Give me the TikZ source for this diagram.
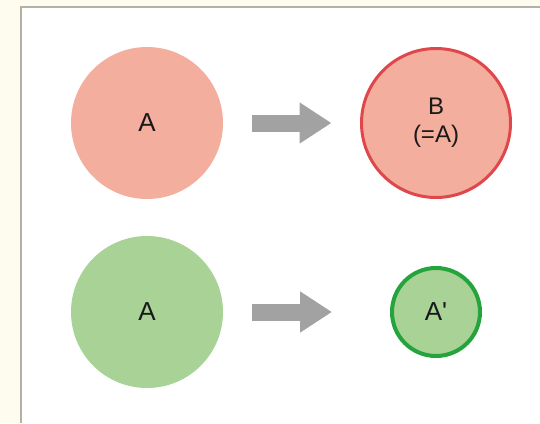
\documentclass[tikz,border=0pt]{standalone}
\usepackage{fontspec}
\newfontfamily\labelfont{Liberation Sans}
\usetikzlibrary{arrows.meta,positioning}

\definecolor{cream}{HTML}{FEFCEE}
\definecolor{panelline}{HTML}{B4B0A4}
\definecolor{redfill}{HTML}{F3AE9E}
\definecolor{redline}{HTML}{E0474C}
\definecolor{greenfill}{HTML}{A9D396}
\definecolor{greenline}{HTML}{25A33C}
\definecolor{arrowgray}{HTML}{A2A2A2}

\begin{document}
\begin{tikzpicture}[x=1pt,y=-1pt,node distance=289pt,
  main node/.style={circle,inner sep=0pt,outer sep=0pt,minimum size=152pt,
    text=black!90,font=\labelfont\fontsize{26}{30}\selectfont},
  red node/.style={main node,fill=redfill},
  green node/.style={main node,fill=greenfill},
  big arrow/.style={-{Triangle[length=32pt,width=39pt]},line width=17pt,arrowgray}]

  \useasboundingbox (0,0) rectangle (540,423);
  \fill[cream] (0,0) rectangle (540,423);
  \fill[white] (21,7) rectangle (540,423);
  \draw[panelline,line width=1.5pt] (21,423) -- (21,7) -- (540,7);

  \node[red node] (1) at (147,123) {A};
  \node[red node,draw=redline,line width=3pt,minimum size=149pt,
    align=center,font=\labelfont\fontsize{24}{28}\selectfont] (2) [right of=1] {B\\(=A)};
  \node[green node] (3) [below of=1,node distance=189pt] {A};
  \node[green node,draw=greenline,line width=4pt,minimum size=88pt] (4) [right of=3] {A'};

  \path[big arrow]
    (1) edge [shorten <=29pt,shorten >=30pt] (2)
    (3) edge [shorten <=29pt,shorten >=60pt] (4);
\end{tikzpicture}
\end{document}
